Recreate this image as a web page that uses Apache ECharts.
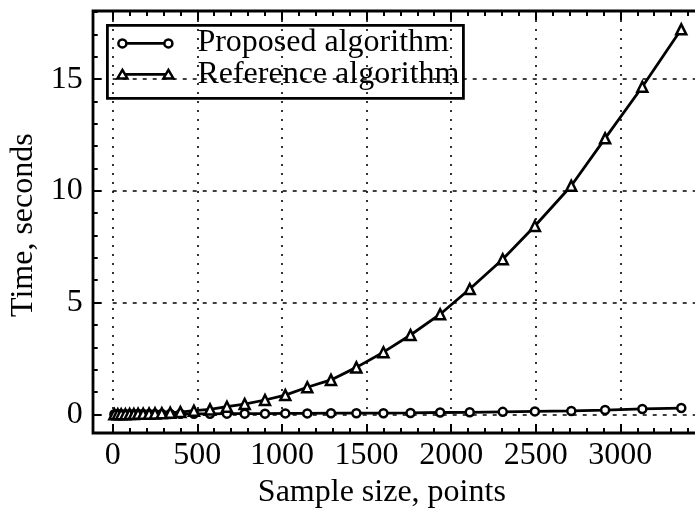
<!DOCTYPE html>
<html>
<head>
<meta charset="utf-8">
<script src="https://cdn.jsdelivr.net/npm/echarts@6/dist/echarts.min.js"></script>
<style>
  html, body { margin: 0; padding: 0; background: #fff; }
  #chart { width: 695px; height: 510px; }
</style>
</head>
<body>
<div id="chart"></div>
<script>
// sample sizes (points) shared by both curves
const sampleSizes = [10, 30, 50, 75, 100, 125, 150, 180, 215, 250, 290, 340, 400, 480, 575, 675,
  780, 900, 1020, 1150, 1290, 1440, 1600, 1760, 1935, 2110, 2305, 2495, 2710, 2910, 3130, 3360];
// time, seconds
const proposedTimes = [0.00, 0.00, 0.00, 0.00, 0.00, 0.00, 0.01, 0.01, 0.01, 0.01, 0.01, 0.01, 0.02, 0.02, 0.02, 0.03,
  0.03, 0.03, 0.04, 0.04, 0.05, 0.05, 0.05, 0.06, 0.08, 0.09, 0.11, 0.13, 0.15, 0.19, 0.24, 0.28];
const referenceTimes = [0.00, 0.00, 0.00, 0.00, 0.01, 0.01, 0.02, 0.02, 0.03, 0.04, 0.05, 0.07, 0.10, 0.16, 0.22, 0.34,
  0.46, 0.64, 0.86, 1.21, 1.54, 2.10, 2.78, 3.55, 4.48, 5.61, 6.94, 8.43, 10.23, 12.35, 14.66, 17.23];
const seriesNames = ['Proposed algorithm', 'Reference algorithm'];
const xStep = 500, xMinorStep = 100, xMax = 3453;
const yStep = 5, yMinorStep = 1, yMax = 18.05;

const FONT = 'Liberation Serif';
const FS = 32;
const LW = 2.8;
const chart = echarts.init(document.getElementById('chart'));

const pairs = vals => sampleSizes.map((x, i) => [x, vals[i]]);
const plain = v => String(v);

// one helper for the several tick-only axes (ticks point into the frame)
function tickAxis(position, offset, step, len, extra) {
  return Object.assign({
    type: 'value', position: position, offset: offset,
    min: 0, max: position === 'left' ? yMax : xMax, interval: step,
    axisLine: { show: false, onZero: false },
    axisTick: { show: true, inside: true, length: len, lineStyle: { color: '#000', width: 2 } },
    axisLabel: { show: false },
    splitLine: { show: false }
  }, extra || {});
}

const option = {
  animation: false,
  backgroundColor: '#fff',
  textStyle: { fontFamily: FONT, color: '#000' },
  grid: { left: 112.7, right: -2, top: 11, bottom: 95.7, containLabel: false, outerBoundsMode: 'none' },
  xAxis: [
    tickAxis('bottom', 18.7, xStep, 9, {
      name: 'Sample size, points',
      nameLocation: 'middle',
      nameGap: 40,
      nameTextStyle: { fontFamily: FONT, fontSize: FS, color: '#000', padding: [0, 46, 0, 0] },
      axisLabel: { show: true, margin: 7, fontFamily: FONT, fontSize: FS, color: '#000', showMaxLabel: false, formatter: plain },
      splitLine: { show: true, lineStyle: { color: '#000', width: 1.6, type: [2, 7] } }
    }),
    tickAxis('bottom', 18.7, xMinorStep, 5),
    tickAxis('top', 0, xStep, 9),
    tickAxis('top', 0, xMinorStep, 5)
  ],
  yAxis: [
    tickAxis('left', 20, yStep, 9, {
      name: 'Time, seconds',
      nameLocation: 'middle',
      nameGap: 45,
      nameTextStyle: { fontFamily: FONT, fontSize: FS, color: '#000', padding: [0, 25, 0, 0] },
      axisLabel: { show: true, margin: 10, fontFamily: FONT, fontSize: FS, color: '#000', showMaxLabel: false, formatter: plain },
      splitLine: { show: true, lineStyle: { color: '#000', width: 1.6, type: [4, 6] } }
    }),
    tickAxis('left', 20, yMinorStep, 5)
  ],
  series: [
    {
      name: seriesNames[0], type: 'line', data: pairs(proposedTimes),
      symbol: 'circle', symbolSize: 8, clip: false, z: 3,
      lineStyle: { color: '#000', width: LW },
      itemStyle: { color: '#fff', borderColor: '#000', borderWidth: 2.5 }
    },
    {
      name: seriesNames[1], type: 'line', data: pairs(referenceTimes),
      symbol: 'triangle', symbolSize: 10, clip: false, z: 4,
      lineStyle: { color: '#000', width: LW },
      itemStyle: { color: '#fff', borderColor: '#000', borderWidth: 2.5 }
    }
  ],
  graphic: [
    // plot frame
    { type: 'rect', z: 10, silent: true, shape: { x: 93, y: 11, width: 620, height: 422 },
      style: { fill: 'none', stroke: '#000', lineWidth: LW } },
    // key box
    { type: 'group', left: 106, top: 24, z: 20, children: [
      { type: 'rect', shape: { x: 1, y: 1, width: 356, height: 73 },
        style: { fill: '#fff', stroke: '#000', lineWidth: LW } },
      { type: 'line', shape: { x1: 16, y1: 19, x2: 62, y2: 19 }, style: { stroke: '#000', lineWidth: LW } },
      { type: 'circle', shape: { cx: 16, cy: 19, r: 4 }, style: { fill: '#fff', stroke: '#000', lineWidth: 2.5 } },
      { type: 'circle', shape: { cx: 62, cy: 19, r: 4 }, style: { fill: '#fff', stroke: '#000', lineWidth: 2.5 } },
      { type: 'text', style: { x: 91, y: 18, text: seriesNames[0], fontFamily: FONT, fontSize: FS, fill: '#000', verticalAlign: 'middle' } },
      { type: 'line', shape: { x1: 16, y1: 50, x2: 62, y2: 50 }, style: { stroke: '#000', lineWidth: LW } },
      { type: 'polygon', shape: { points: [[16, 45.5], [21, 54], [11, 54]] }, style: { fill: '#fff', stroke: '#000', lineWidth: 2.5 } },
      { type: 'polygon', shape: { points: [[62, 45.5], [67, 54], [57, 54]] }, style: { fill: '#fff', stroke: '#000', lineWidth: 2.5 } },
      { type: 'text', style: { x: 91, y: 50, text: seriesNames[1], fontFamily: FONT, fontSize: FS, fill: '#000', verticalAlign: 'middle' } }
    ] }
  ]
};

chart.setOption(option);
</script>
</body>
</html>
